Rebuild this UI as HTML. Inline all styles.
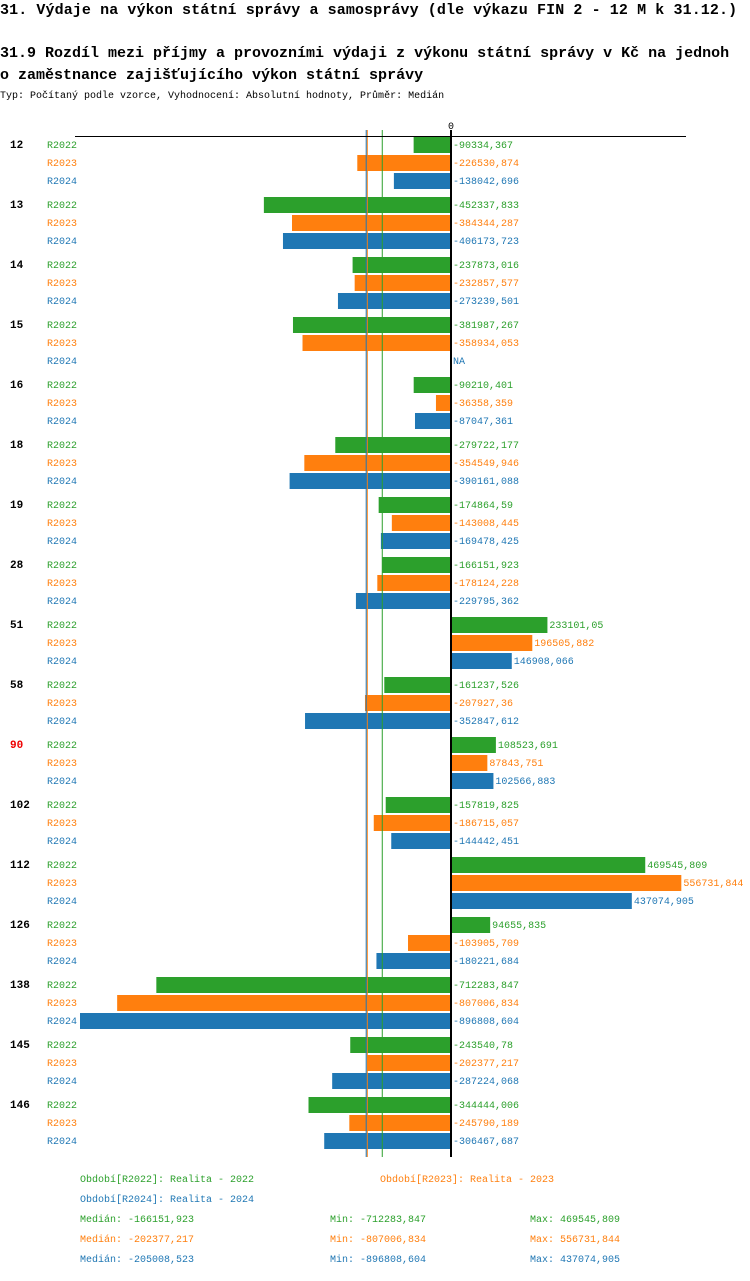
<!DOCTYPE html>
<html><head><meta charset="utf-8"><style>
body{margin:0;background:#fff;}
svg text{font-family:"Liberation Mono","DejaVu Sans Mono",monospace;}
</style></head><body>
<svg width="750" height="1276" xmlns="http://www.w3.org/2000/svg">
<text x="0" y="14" font-size="15" font-weight="bold" letter-spacing="0.1">31. Výdaje na výkon státní správy a samosprávy (dle výkazu FIN 2 - 12 M k 31.12.)</text>
<text x="0" y="57" font-size="15" font-weight="bold" letter-spacing="0">31.9 Rozdíl mezi příjmy a provozními výdaji z výkonu státní správy v Kč na jednoh</text>
<text x="0" y="79" font-size="15" font-weight="bold" letter-spacing="0">o zaměstnance zajišťujícího výkon státní správy</text>
<text x="0" y="98" font-size="10">Typ: Počítaný podle vzorce, Vyhodnocení: Absolutní hodnoty, Průměr: Medián</text>
<g id="plot"></g>
<g id="legend" font-size="10">
<text x="80" y="1182" fill="#2ca02c">Období[R2022]: Realita - 2022</text>
<text x="380" y="1182" fill="#ff7f0e">Období[R2023]: Realita - 2023</text>
<text x="80" y="1202" fill="#1f77b4">Období[R2024]: Realita - 2024</text>
</g>
<g id="stats" font-size="10"></g>
</svg>
<script>
const categories=["12","13","14","15","16","18","19","28","51","58","90","102","112","126","138","145","146"];
const series=["R2022","R2023","R2024"];
const colors=["#2ca02c","#ff7f0e","#1f77b4"];
const r2022=[-90334.367,-452337.833,-237873.016,-381987.267,-90210.401,-279722.177,-174864.59,-166151.923,233101.05,-161237.526,108523.691,-157819.825,469545.809,94655.835,-712283.847,-243540.78,-344444.006];
const r2023=[-226530.874,-384344.287,-232857.577,-358934.053,-36358.359,-354549.946,-143008.445,-178124.228,196505.882,-207927.36,87843.751,-186715.057,556731.844,-103905.709,-807006.834,-202377.217,-245790.189];
const r2024=[-138042.696,-406173.723,-273239.501,null,-87047.361,-390161.088,-169478.425,-229795.362,146908.066,-352847.612,102566.883,-144442.451,437074.905,-180221.684,-896808.604,-287224.068,-306467.687];
const medians=[-166151.923,-202377.217,-205008.523];
const mins=[-712283.847,-807006.834,-896808.604];
const maxs=[469545.809,556731.844,437074.905];
const labelsMed=["-166151,923","-202377,217","-205008,523"];
const labelsMin=["-712283,847","-807006,834","-896808,604"];
const labelsMax=["469545,809","556731,844","437074,905"];
const NS="http://www.w3.org/2000/svg";
const X0=451, K=371/896808.604;
const x=v=>X0+v*K;
const fmt=v=>{if(v===null)return"NA";let s=String(v);return s.replace(".",",");};
const plot=document.getElementById("plot");
function mk(t,a,p){const e=document.createElementNS(NS,t);for(const k in a)e.setAttribute(k,a[k]);(p||plot).appendChild(e);return e;}
const data=[r2022,r2023,r2024];
categories.forEach((c,i)=>{
  const gy=145+i*60;
  const t=mk("text",{x:10,y:gy+3,"font-size":11,"font-weight":"bold",fill:c==="90"?"#e00":"#000"});t.textContent=c;
  
  
  series.forEach((s,j)=>{
    const y=gy+j*18;const v=data[j][i];
    const l=mk("text",{x:47,y:y+3,"font-size":10,fill:colors[j]});l.textContent=s;
    
    
    if(v!==null){
      const a=Math.min(x(v),X0),b=Math.max(x(v),X0);
      const r=mk("rect",{x:a,y:y-8,width:b-a,height:16,fill:colors[j]});
      
      
    }
    const tx=(v!==null&&v>0)?x(v)+2:453;
    const vt=mk("text",{x:tx,y:y+3,"font-size":10,fill:colors[j]});vt.textContent=fmt(v);
    
    
  });
});
[1,2,0].forEach(j=>{
  const m=mk("line",{x1:x(medians[j]),x2:x(medians[j]),y1:130,y2:1157,stroke:colors[j],"stroke-width":1});
  
  
});
const ax=mk("line",{x1:75,x2:686,y1:136.5,y2:136.5,stroke:"#000","stroke-width":1});


const zl=mk("line",{x1:X0,x2:X0,y1:130,y2:1157,stroke:"#000","stroke-width":2});


const zt=mk("text",{x:X0,y:129,"font-size":10,"text-anchor":"middle"});zt.textContent="0";


const st=document.getElementById("stats");
[0,1,2].forEach(j=>{
  const y=1222+j*20;
  [[80,"Medián: "+labelsMed[j]],[330,"Min: "+labelsMin[j]],[530,"Max: "+labelsMax[j]]].forEach(([px,tx])=>{
    const e=mk("text",{x:px,y:y,fill:colors[j]},st);e.textContent=tx;
    
    
  });
});
</script>
</body></html>
